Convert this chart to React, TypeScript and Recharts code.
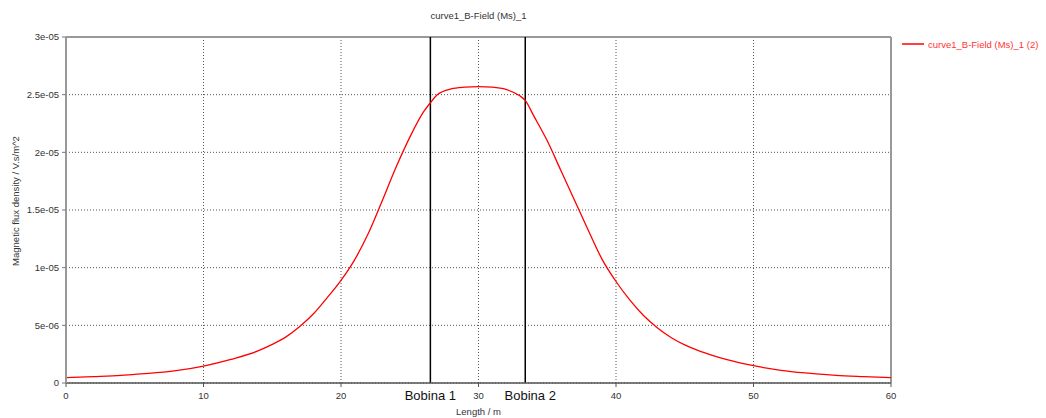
import React from "react";
import { LineChart, Line, XAxis, YAxis, CartesianGrid, ReferenceLine, Legend } from "recharts";

const seriesName = "curve1_B-Field (Ms)_1 (2)";
const chartTitle = "curve1_B-Field (Ms)_1";
const xLabel = "Length / m";
const yLabel = "Magnetic flux density / V.s/m^2";

const lengths = [0, 2, 4, 5, 6, 8, 10, 12, 14, 15, 16, 17, 18, 19, 20, 21, 22, 23, 24, 25, 26, 26.5, 27, 28, 29, 30, 31, 32, 33, 33.4, 34, 35, 36, 37, 38, 39, 40, 41, 42, 43, 44, 45, 46, 47, 48, 50, 52, 54, 56, 58, 60];
// values in units of 1e-05 V.s/m^2
const bField = [0.046, 0.055, 0.066, 0.075, 0.083, 0.107, 0.147, 0.205, 0.28, 0.335, 0.4, 0.49, 0.6, 0.74, 0.89, 1.07, 1.3, 1.58, 1.87, 2.13, 2.35, 2.43, 2.5, 2.55, 2.565, 2.57, 2.565, 2.545, 2.49, 2.45, 2.32, 2.1, 1.84, 1.58, 1.32, 1.07, 0.88, 0.72, 0.585, 0.48, 0.395, 0.33, 0.28, 0.24, 0.205, 0.15, 0.11, 0.085, 0.066, 0.055, 0.046];

const xTicks = [0, 10, 20, 30, 40, 50, 60];
const yTicks = [0, 0.5, 1, 1.5, 2, 2.5, 3];
const yTickLabels = ["0", "5e-06", "1e-05", "1.5e-05", "2e-05", "2.5e-05", "3e-05"];

const coils = [
  { x: 26.5, label: "Bobina 1", dx: 0 },
  { x: 33.4, label: "Bobina 2", dx: 5 },
];

const data = lengths.map((x, i) => ({ x, b: bField[i] }));

const FONT = "'Liberation Sans', Arial, sans-serif";
const TXT = "#333";

export default function App() {
  return (
    <div style={{ position: "absolute", left: 0, top: 0, width: 1046, height: 418, background: "#fff", fontFamily: FONT }}>
      <div style={{ position: "absolute", left: 66, width: 825, top: 10, textAlign: "center", fontSize: 9.5, color: TXT }}>
        {chartTitle}
      </div>
      <LineChart width={1046} height={418} data={data} margin={{ top: 37, right: 155, bottom: 15, left: 0 }}>
        <CartesianGrid stroke="#555" strokeDasharray="1 2" />
        <XAxis
          dataKey="x"
          type="number"
          domain={[0, 60]}
          ticks={xTicks}
          height={20}
          tickSize={4}
          tickMargin={5}
          axisLine={{ stroke: "#555", strokeWidth: 1.5 }}
          tickLine={{ stroke: "#555" }}
          tick={{ fill: TXT, fontSize: 9.5, fontFamily: FONT }}
          label={(p: any) => {
            const vb = p.viewBox || {};
            return (
              <text x={vb.x + vb.width / 2} y={415} textAnchor="middle" fontSize={9.5} fill="#334" fontFamily={FONT}>
                {xLabel}
              </text>
            );
          }}
        />
        <YAxis
          type="number"
          domain={[0, 3]}
          ticks={yTicks}
          width={66}
          tickSize={4}
          tickMargin={3}
          interval={0}
          allowDataOverflow
          tickFormatter={(v: number) => yTickLabels[yTicks.indexOf(v)] ?? String(v)}
          axisLine={{ stroke: "#999", strokeWidth: 2 }}
          tickLine={{ stroke: "#777" }}
          tick={{ fill: TXT, fontSize: 9.5, fontFamily: FONT }}
          label={(p: any) => {
            const vb = p.viewBox || {};
            const cy = vb.y + vb.height / 2 - 9;
            return (
              <text x={15} y={cy} transform={`rotate(-90 15 ${cy})`} textAnchor="middle" dominantBaseline="central" fontSize={9.5} fill={TXT} fontFamily={FONT}>
                {yLabel}
              </text>
            );
          }}
        />
        <ReferenceLine y={3} stroke="#999" strokeWidth={2} />
        <ReferenceLine x={60} stroke="#999" strokeWidth={2} />
        {coils.map((c) => (
          <ReferenceLine
            key={c.label}
            x={c.x}
            stroke="#000"
            strokeWidth={1.5}
            label={(p: any) => {
              const vb = p.viewBox || {};
              return (
                <text x={vb.x + c.dx} y={vb.y + vb.height + 17} textAnchor="middle" fontSize={13} fill="#111" fontFamily={FONT}>
                  {c.label}
                </text>
              );
            }}
          />
        ))}
        <Line type="monotone" dataKey="b" name={seriesName} stroke="#ff0000" strokeWidth={1.3} dot={false} isAnimationActive={false} />
        <Legend
          layout="horizontal"
          align="center"
          verticalAlign="middle"
          wrapperStyle={{ position: "absolute", left: 900, top: 38, width: 146 }}
          content={() => (
            <div style={{ display: "flex", alignItems: "center", fontFamily: FONT, fontSize: 9.5, color: "#ff3333", whiteSpace: "nowrap" }}>
              <svg width={24} height={12} style={{ marginRight: 4 }}>
                <line x1={2} y1={6} x2={24} y2={6} stroke="#ff0000" strokeWidth={1.5} />
              </svg>
              <span>{seriesName}</span>
            </div>
          )}
        />
      </LineChart>
    </div>
  );
}
